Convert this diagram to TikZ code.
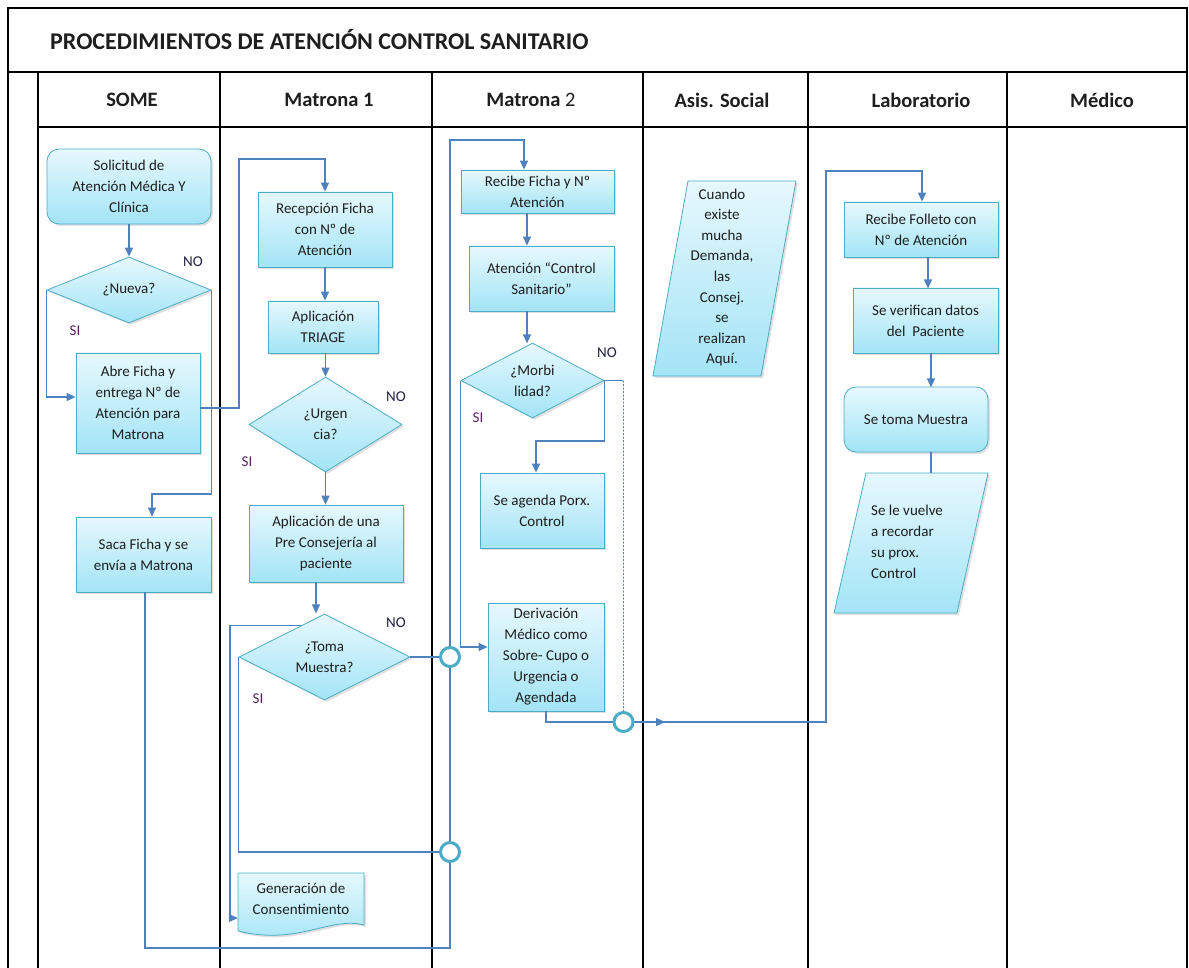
\documentclass[tikz,border=0pt]{standalone}
\usepackage{fontspec}
\setmainfont{Carlito}
\usetikzlibrary{shapes.geometric,arrows.meta,shadows,calc}
\definecolor{bord}{HTML}{4BACC6}
\definecolor{ftop}{HTML}{E6F8FD}
\definecolor{fbot}{HTML}{A3E4F6}
\definecolor{conn}{HTML}{4F81BD}
\definecolor{ring}{HTML}{4BACC6}
\definecolor{txt}{HTML}{1E1E1E}
\definecolor{nolab}{HTML}{202040}
\definecolor{silab}{HTML}{5A1F5F}
\begin{document}
\begin{tikzpicture}[x=1pt,y=-1pt,
  every node/.style={text=txt},
  frame/.style={line width=2.8pt, black},
  body/.style={font=\fontsize{15}{21}\selectfont, align=center, inner sep=0pt},
  shapefill/.style={draw=bord, line width=0.8pt, top color=ftop, bottom color=fbot,
    drop shadow={shadow xshift=2pt, shadow yshift=-2pt, opacity=0.25}},
  proc/.style={shapefill, body, rectangle},
  term/.style={shapefill, body, rectangle, rounded corners=12pt},
  decision/.style={shapefill, body, diamond, aspect=2},
  head/.style={font=\fontsize{20.5}{24}\selectfont\bfseries, inner sep=0pt},
  nolabel/.style={font=\fontsize{15}{18}\selectfont, text=nolab, inner sep=0pt},
  silabel/.style={font=\fontsize{15}{18}\selectfont, text=silab, inner sep=0pt},
  connline/.style={draw=conn, line width=1.3pt},
  arr/.style={connline, -{Triangle[length=9pt,width=8pt]}},
  ringnode/.style={circle, draw=ring, line width=3pt, fill=white, minimum size=19pt, inner sep=0pt}
]
\useasboundingbox (0,0) rectangle (1189,968);

% frame and lanes
\draw[frame] (8,968) -- (8,8) -- (1187,8) -- (1187,968);
\draw[frame] (8,72) -- (1187,72);
\draw[frame] (38,72) -- (38,968);
\draw[frame] (38,127) -- (1187,127);
\foreach \xx in {220,432,643,808,1007} {\draw[frame] (\xx,72) -- (\xx,968);}

\node[anchor=west, inner sep=0pt, font=\fontsize{24}{28}\selectfont\bfseries] (title) at (50,40) {PROCEDIMIENTOS DE ATENCIÓN CONTROL SANITARIO};

\node[head] (h1) at (132,100) {SOME};
\node[head] (h2) at (329,100) {Matrona 1};
\node[head] (h3) at (531,100) {Matrona \mdseries 2};
\node[head] (h4) at (722,100) {Asis. Social};
\node[head] (h5) at (921,100) {Laboratorio};
\node[head] (h6) at (1102,100) {Médico};

% SOME
\node[term, minimum width=164pt, minimum height=75pt] (sol) at (129,186.5) {Solicitud de\\Atención Médica Y\\Clínica};
\node[decision, minimum width=164pt, minimum height=66pt] (nueva) at (129,290) {¿Nueva?};
\node[proc, minimum width=124pt, minimum height=100pt] (abre) at (138,403) {Abre Ficha y\\entrega Nº de\\Atención para\\Matrona};
\node[proc, minimum width=135pt, minimum height=75pt] (saca) at (143.5,554.5) {Saca Ficha y se\\envía a Matrona};

% Matrona 1
\node[proc, minimum width=134pt, minimum height=75pt] (recep) at (325,229.5) {Recepción Ficha\\con Nº de\\Atención};
\node[proc, minimum width=110pt, minimum height=52pt] (triage) at (323,327) {Aplicación\\TRIAGE};
\node[decision, minimum width=153pt, minimum height=95pt] (urg) at (325.5,424.5) {¿Urgen\\cia?};
\node[proc, minimum width=154pt, minimum height=77pt] (pre) at (326,543.5) {Aplicación de una\\Pre Consejería al\\paciente};
\node[decision, minimum width=171pt, minimum height=86pt] (toma) at (324.5,657) {¿Toma\\Muestra?};
\path[shapefill] (238,873) -- (364,873) -- (364,925) .. controls (330,916) and (298,946) .. (238,931) -- cycle;
\node[body, minimum width=126pt] (gen) at (301,899) {Generación de\\Consentimiento};

% Matrona 2
\node[proc, minimum width=153pt, minimum height=43pt] (recibe) at (537.5,191.5) {Recibe Ficha y Nº\\Atención};
\node[proc, minimum width=145pt, minimum height=65pt] (aten) at (541.5,278.5) {Atención “Control\\Sanitario”};
\node[decision, minimum width=143pt, minimum height=75pt] (morb) at (532.5,380.5) {¿Morbi\\lidad?};
\node[proc, minimum width=124pt, minimum height=75pt] (agenda) at (542,510.5) {Se agenda Porx.\\Control};
\node[proc, minimum width=116pt, minimum height=108pt] (deriv) at (546,657) {Derivación\\Médico como\\Sobre- Cupo o\\Urgencia o\\Agendada};

% Asis. Social
\path[shapefill] (688,181) -- (796,181) -- (761,376) -- (653,376) -- cycle;
\node[body, font=\fontsize{15}{20.6}\selectfont] (cuando) at (722,277.5) {Cuando\\existe\\mucha\\Demanda,\\las\\Consej.\\se\\realizan\\Aquí.};

% Laboratorio
\node[proc, minimum width=154pt, minimum height=55pt] (folleto) at (921,229.5) {Recibe Folleto con\\Nº de Atención};
\node[proc, minimum width=145pt, minimum height=65pt] (verif) at (925.5,320.5) {Se verifican datos\\del\ \ Paciente};
\node[term, minimum width=144pt, minimum height=65pt] (muestra) at (916,419.5) {Se toma Muestra};
\path[shapefill] (866,473) -- (988,473) -- (957,613) -- (834,613) -- cycle;
\coordinate (rtop) at (931,473);
\node[body, align=left, anchor=west] (recordar) at (871,541.5) {Se le vuelve\\a recordar\\su prox.\\Control};

% labels
\node[nolabel] (no1) at (193,262) {NO};
\node[silabel] (si1) at (75,331) {SI};
\node[nolabel] (no2) at (396,397) {NO};
\node[silabel] (si2) at (247,462) {SI};
\node[nolabel] (no3) at (396,623) {NO};
\node[silabel] (si3) at (258,699) {SI};
\node[nolabel] (no4) at (607,353) {NO};
\node[silabel] (si4) at (478,418) {SI};

% junction points
\coordinate (c1) at (450,657);
\coordinate (c2) at (450,852);
\coordinate (c3) at (623.5,722);
\coordinate (xk) at (230,0);

% connectors
\draw[arr] (sol.south) -- (nueva.north);
\draw[arr] (nueva.west) |- ([yshift=6pt]abre.west);
\draw[arr] (nueva.east) |- (152,494) -- ([xshift=8.5pt]saca.north);
\draw[arr] ([yshift=-5pt]abre.east) -| (239,159) -| (recep.north);
\draw[arr] (recep.south) -- (recep.south |- triage.north);
\draw[arr] (urg.north |- triage.south) -- (urg.north);
\draw[arr] (urg.south) -- (urg.south |- pre.north);
\draw[arr] ([xshift=-10pt]pre.south) -- ++(0,31);
\draw[connline] (toma.east) -- (c1);
\draw[connline] (toma.west) |- (c2);
\coordinate (tm) at ($(toma.north)!0.27!(toma.west)$);
\draw[arr] (tm) -- (tm -| xk) |- ([yshift=-19pt]gen.west);
\draw[arr] ([xshift=1.5pt]saca.south) |- (450,948) |- (524,140) -- ([xshift=-13.5pt]recibe.north);
\draw[arr] ([xshift=-10.5pt]recibe.south) -- ([xshift=-14.5pt]aten.north);
\draw[arr] ([xshift=-14.5pt]aten.south) -- ++(0,32);
\draw[arr] (morb.west) |- ([yshift=10pt]deriv.west);
\draw[arr] (morb.east) -- ++(0,60.5) -| ([xshift=-6pt]agenda.north);
\draw[connline] (morb.east) -- ++(19,0) coordinate (dtop);
\draw[draw=conn, line width=0.8pt, dash pattern=on 2pt off 1.5pt] (dtop) -- (c3);
\draw[connline] (deriv.south) |- (c3);
\draw[arr] (c3) -- (826,722) |- (922,171) -- ([xshift=1pt]folleto.north);
\draw[arr] (c3) -- (665,722);
\draw[arr] ([xshift=7pt]folleto.south) -- ++(0,31);
\draw[arr] ([xshift=5.5pt]verif.south) -- ++(0,34);
\draw[connline] ([xshift=15pt]muestra.south) -- (rtop);

\node[ringnode] (r1) at (c1) {};
\node[ringnode] (r2) at (c2) {};
\node[ringnode] (r3) at (c3) {};
\end{tikzpicture}
\end{document}
